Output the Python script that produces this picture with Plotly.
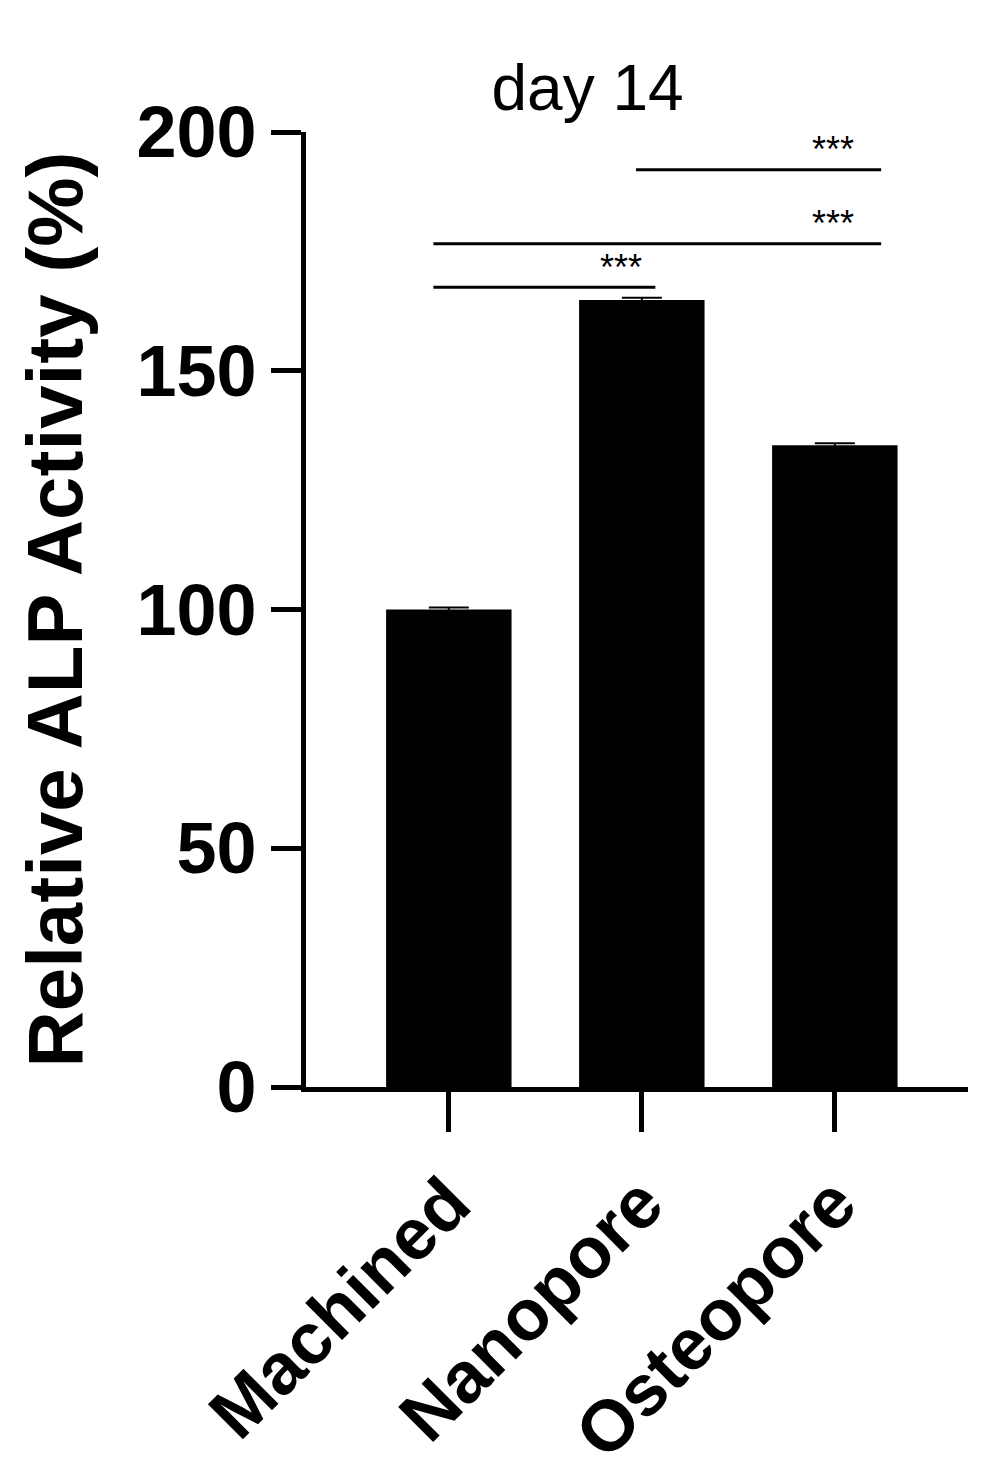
import plotly.graph_objects as go

# bar data
groups = ["Machined", "Nanopore", "Osteopore"]
alp = [100, 164.8, 134.4]
alp_err = [0.4, 0.5, 0.4]

# significance brackets: (x start, x end, y level, star x)
sig_x0 = [-0.08, -0.08, 0.97]
sig_x1 = [1.07, 2.24, 2.24]
sig_y = [167.5, 176.6, 192.1]
sig_star_x = [0.89, 1.99, 1.99]
sig_label = ["***", "***", "***"]

FONT = "Liberation Sans, Arial"

fig = go.Figure(go.Bar(
    x=[0, 1, 2], y=alp, width=0.65,
    marker=dict(color="black", line=dict(color="black", width=0)),
    error_y=dict(type="data", array=alp_err, color="black", thickness=2, width=20),
))

for x0, x1, y, sx, lab in zip(sig_x0, sig_x1, sig_y, sig_star_x, sig_label):
    fig.add_shape(type="line", x0=x0, x1=x1, y0=y, y1=y,
                  line=dict(color="black", width=3))
    fig.add_annotation(x=sx, y=y, text=lab, showarrow=False, yshift=20,
                       font=dict(size=36, color="black", family=FONT))

fig.update_layout(
    width=1008, height=1477,
    margin=dict(l=298, r=48, t=124, b=380),
    plot_bgcolor="white", paper_bgcolor="white",
    showlegend=False,
    title=dict(text="day 14", x=0.575, xanchor="center", y=0.946, yanchor="middle",
               font=dict(size=64, family=FONT, color="black")),
    font=dict(family=FONT, color="black"),
)
fig.update_xaxes(
    range=[-0.74, 2.69], tickvals=[0, 1, 2], ticktext=groups,
    tickangle=-45, ticks="outside", ticklen=40, tickwidth=5, tickcolor="black",
    showline=True, linewidth=5, linecolor="black", showgrid=False, zeroline=False,
    tickfont=dict(size=72, family=FONT, color="black", weight="bold"),
)
fig.update_yaxes(
    range=[0, 200], tickvals=[0, 50, 100, 150, 200],
    ticks="outside", ticklen=30, tickwidth=5, tickcolor="black",
    showline=True, linewidth=5, linecolor="black", showgrid=False, zeroline=False,
    tickfont=dict(size=72, family=FONT, color="black", weight="bold"),
    title=dict(text="Relative ALP Activity (%)", standoff=30,
               font=dict(size=78, family=FONT, color="black", weight="bold")),
)

fig.write_html("out.html")
